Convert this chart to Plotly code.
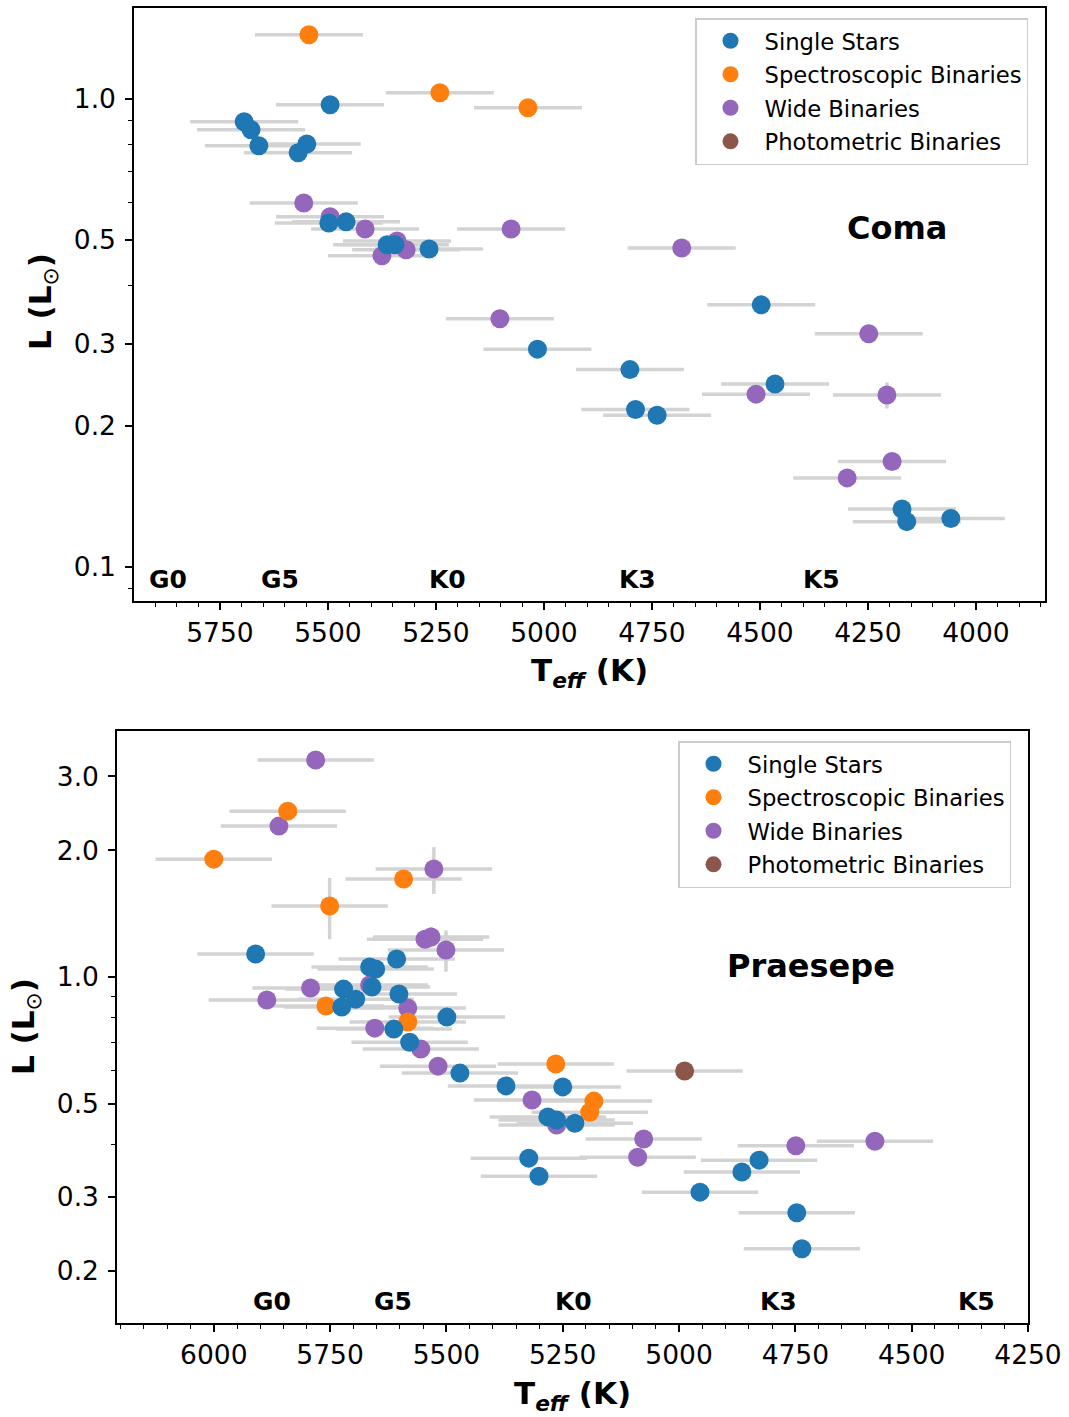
import plotly.graph_objects as go

# ---------------- Coma ----------------
coma_single_teff = [5495, 5694, 5678, 5660, 5549, 5569, 5498, 5458, 5363, 5345, 5266,
                    5015, 4497, 4801, 4465, 4788, 4738, 4171, 4160, 4058]
coma_single_L = [0.971, 0.893, 0.859, 0.794, 0.801, 0.767, 0.543, 0.546, 0.488, 0.488, 0.478,
                 0.292, 0.363, 0.264, 0.246, 0.217, 0.211, 0.133, 0.125, 0.127]
coma_single_Lerr = [0] * 20

coma_spec_teff = [5544, 5241, 5037]
coma_spec_L = [1.370, 1.030, 0.957]
coma_spec_Lerr = [0, 0, 0]

coma_wide_teff = [5556, 5495, 5414, 5340, 5319, 5375, 5076, 4681, 4248, 5102, 4509, 4206, 4194, 4298]
coma_wide_L = [0.599, 0.560, 0.527, 0.497, 0.476, 0.462, 0.527, 0.480, 0.315, 0.339, 0.234, 0.233, 0.168, 0.155]
coma_wide_Lerr = [0, 0, 0, 0, 0, 0, 0, 0, 0, 0, 0, 0.015, 0, 0]

coma_phot_teff = []
coma_phot_L = []
coma_phot_Lerr = []

# ---------------- Praesepe ----------------
prae_single_teff = [5910, 5607, 5665, 5652, 5660, 5721, 5602, 5695, 5725, 5499, 5613, 5579,
                    5471, 5372, 5250, 5282, 5263, 5224, 5323, 5301, 4828, 4865, 4955, 4747, 4736]
prae_single_L = [1.134, 1.104, 1.056, 1.045, 0.947, 0.936, 0.911, 0.886, 0.849, 0.803, 0.752, 0.700,
                 0.591, 0.551, 0.548, 0.465, 0.457, 0.449, 0.371, 0.336, 0.367, 0.344, 0.308, 0.275, 0.226]
prae_single_Lerr = [0] * 25

prae_spec_teff = [5841, 6000, 5592, 5751, 5759, 5583, 5265, 5183, 5192]
prae_spec_L = [2.48, 1.907, 1.71, 1.475, 0.853, 0.782, 0.621, 0.507, 0.477]
prae_spec_Lerr = [0, 0, 0, 0.245, 0, 0, 0, 0, 0.03]

prae_wide_teff = [5781, 5860, 5527, 5546, 5533, 5501, 5665, 5792, 5886, 5583, 5654, 5555,
                  5518, 5316, 5263, 5076, 5089, 4749, 4579]
prae_wide_L = [3.28, 2.285, 1.806, 1.23, 1.245, 1.16, 0.957, 0.942, 0.882, 0.844, 0.756, 0.674,
               0.614, 0.510, 0.445, 0.412, 0.373, 0.397, 0.407]
prae_wide_Lerr = [0, 0, 0.23, 0, 0.07, 0.13, 0, 0, 0, 0, 0, 0, 0, 0, 0, 0, 0, 0, 0]

prae_phot_teff = [4988]
prae_phot_L = [0.598]
prae_phot_Lerr = [0]

teff_err = 125  # K

group_names = ["Single Stars", "Spectroscopic Binaries", "Wide Binaries", "Photometric Binaries"]
group_colors = ["#1f77b4", "#ff7f0e", "#9467bd", "#8c564b"]

sptype_labels = ["G0", "G5", "K0", "K3", "K5"]
sptype_teff = [5920, 5660, 5270, 4830, 4405]

coma_x_ticks = [5750, 5500, 5250, 5000, 4750, 4500, 4250, 4000]
coma_y_ticks = [0.1, 0.2, 0.3, 0.5, 1.0]
coma_y_ticktext = ["0.1", "0.2", "0.3", "0.5", "1.0"]
coma_y_minor = [0.09, 0.4, 0.6, 0.7, 0.8, 0.9]

prae_x_ticks = [6000, 5750, 5500, 5250, 5000, 4750, 4500, 4250]
prae_y_ticks = [0.2, 0.3, 0.5, 1.0, 2.0, 3.0]
prae_y_ticktext = ["0.2", "0.3", "0.5", "1.0", "2.0", "3.0"]
prae_y_minor = [0.4, 0.6, 0.7, 0.8, 0.9]

FONT = "DejaVu Sans"
fig = go.Figure()

panels = [
    dict(xa="x", ya="y", legend="legend",
         groups=[(coma_single_teff, coma_single_L, coma_single_Lerr),
                 (coma_spec_teff, coma_spec_L, coma_spec_Lerr),
                 (coma_wide_teff, coma_wide_L, coma_wide_Lerr),
                 (coma_phot_teff, coma_phot_L, coma_phot_Lerr)]),
    dict(xa="x2", ya="y2", legend="legend2",
         groups=[(prae_single_teff, prae_single_L, prae_single_Lerr),
                 (prae_spec_teff, prae_spec_L, prae_spec_Lerr),
                 (prae_wide_teff, prae_wide_L, prae_wide_Lerr),
                 (prae_phot_teff, prae_phot_L, prae_phot_Lerr)]),
]

draw_order = [2, 3, 1, 0]  # purple, brown, orange, blue (blue on top)

for pi, p in enumerate(panels):
    # error bars first (beneath all markers)
    for gi in range(4):
        tx, ly, le = p["groups"][gi]
        if len(tx) == 0:
            continue
        fig.add_trace(go.Scatter(
            x=tx, y=ly, mode="markers", xaxis=p["xa"], yaxis=p["ya"],
            marker=dict(size=1, opacity=0), showlegend=False, hoverinfo="skip",
            error_x=dict(type="constant", value=teff_err, color="#d3d3d3", thickness=3.5, width=0),
            error_y=dict(type="data", array=le, color="#d3d3d3", thickness=3.5, width=0),
        ))
    for gi in draw_order:
        tx, ly, le = p["groups"][gi]
        fig.add_trace(go.Scatter(
            x=tx if len(tx) else [None], y=ly if len(ly) else [None],
            mode="markers", xaxis=p["xa"], yaxis=p["ya"],
            name=group_names[gi], legend=p["legend"], legendrank=gi + 1,
            legendgroup="p%d_g%d" % (pi, gi),
            marker=dict(size=19, color=group_colors[gi], line=dict(width=0)),
        ))

axis_common = dict(showline=True, linecolor="black", linewidth=1.5, mirror=True,
                   ticks="outside", ticklen=7, tickwidth=1.5, tickcolor="black",
                   showgrid=False, zeroline=False, automargin=False,
                   tickfont=dict(family=FONT, size=26.5, color="black"))

legend_common = dict(xanchor="left", yanchor="top",
                     bgcolor="white", bordercolor="#cccccc", borderwidth=1.5,
                     font=dict(family=FONT, size=22.7, color="black"), itemsizing="trace",
                     itemwidth=58, tracegroupgap=1)

fig.update_layout(
    width=1069, height=1417,
    margin=dict(l=0, r=0, t=0, b=0, autoexpand=False),
    paper_bgcolor="white", plot_bgcolor="white",
    font=dict(family=FONT, color="black"),
    xaxis=dict(domain=[134 / 1069, 1045 / 1069], anchor="y", range=[5949, 3840],
               tickvals=coma_x_ticks,
               minor=dict(dtick=50, tick0=4000, ticks="outside", ticklen=4, tickwidth=1, tickcolor="black"),
               **axis_common),
    yaxis=dict(domain=[1 - 601 / 1417, 1 - 8 / 1417], anchor="x", type="log", range=[-1.0726, 0.194],
               tickvals=coma_y_ticks, ticktext=coma_y_ticktext, ticklabelstandoff=4,
               minor=dict(tickvals=coma_y_minor, ticks="outside", ticklen=4, tickwidth=1, tickcolor="black"),
               **axis_common),
    xaxis2=dict(domain=[117 / 1069, 1028 / 1069], anchor="y2", range=[6208, 4250],
                tickvals=prae_x_ticks,
                minor=dict(dtick=50, tick0=4000, ticks="outside", ticklen=4, tickwidth=1, tickcolor="black"),
                **axis_common),
    yaxis2=dict(domain=[1 - 1323 / 1417, 1 - 731 / 1417], anchor="x2", type="log", range=[-0.8226, 0.585],
                tickvals=prae_y_ticks, ticktext=prae_y_ticktext, ticklabelstandoff=4,
                minor=dict(tickvals=prae_y_minor, ticks="outside", ticklen=4, tickwidth=1, tickcolor="black"),
                **axis_common),
    legend=dict(x=695 / 1069, y=1 - 18 / 1417, **legend_common),
    legend2=dict(x=678 / 1069, y=1 - 741 / 1417, **legend_common),
)

annotations = []
for xa, ya in [("x", "y"), ("x2", "y2")]:
    for lab, t in zip(sptype_labels, sptype_teff):
        annotations.append(dict(x=t, xref=xa, y=0.037, yref=ya + " domain", text="<b>" + lab + "</b>",
                                showarrow=False, xanchor="left", yanchor="middle",
                                font=dict(family=FONT, size=25, color="black")))

annotations.append(dict(x=0.8375, xref="x domain", y=0.629, yref="y domain", text="<b>Coma</b>",
                        showarrow=False, xanchor="center", yanchor="middle",
                        font=dict(family=FONT, size=32, color="black")))
annotations.append(dict(x=0.762, xref="x2 domain", y=0.603, yref="y2 domain", text="<b>Praesepe</b>",
                        showarrow=False, xanchor="center", yanchor="middle",
                        font=dict(family=FONT, size=32, color="black")))

xtitle = "<b>T<sub><i>eff</i></sub> (K)</b>"
ytitle = "<b>L (L</b><sub>⊙</sub><b>)</b>"
annotations.append(dict(x=589.5 / 1069, xref="paper", y=1 - 672 / 1417, yref="paper", text=xtitle,
                        showarrow=False, xanchor="center", yanchor="middle",
                        font=dict(family=FONT, size=31, color="black")))
annotations.append(dict(x=572.5 / 1069, xref="paper", y=1 - 1395 / 1417, yref="paper", text=xtitle,
                        showarrow=False, xanchor="center", yanchor="middle",
                        font=dict(family=FONT, size=31, color="black")))
annotations.append(dict(x=42 / 1069, xref="paper", y=1 - 302 / 1417, yref="paper", text=ytitle,
                        showarrow=False, xanchor="center", yanchor="middle", textangle=-90,
                        font=dict(family=FONT, size=31, color="black")))
annotations.append(dict(x=25 / 1069, xref="paper", y=1 - 1027 / 1417, yref="paper", text=ytitle,
                        showarrow=False, xanchor="center", yanchor="middle", textangle=-90,
                        font=dict(family=FONT, size=31, color="black")))

fig.update_layout(annotations=annotations)
fig.write_html("out.html")
